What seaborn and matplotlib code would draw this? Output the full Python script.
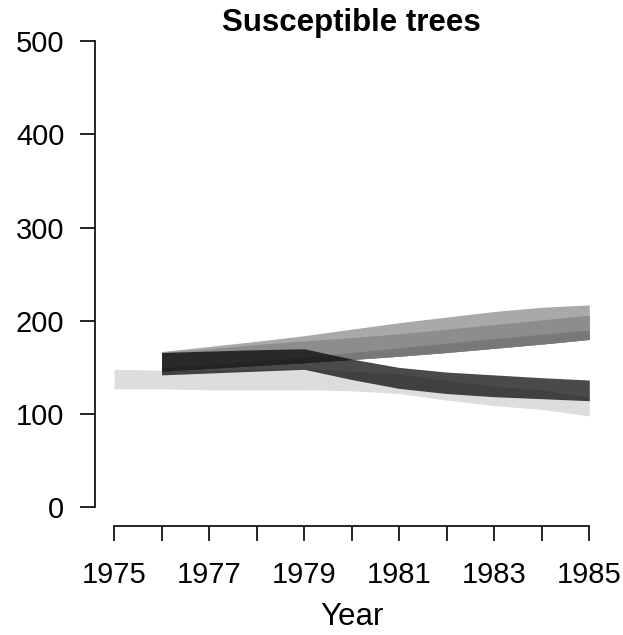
import numpy as np
import matplotlib
matplotlib.use("Agg")
import matplotlib.pyplot as plt
import seaborn as sns

# Observed susceptible-tree range (1975-1985)
obs_years = [1975, 1976, 1977, 1978, 1979, 1980, 1981, 1982, 1983, 1984, 1985]
obs_low = [127, 127, 126, 126, 126, 125, 122, 115, 109, 105, 98]
obs_high = [148, 147, 147, 148, 149, 146, 143, 136, 130, 126, 118]

# Model projections (1976-1985)
model_years = [1976, 1977, 1978, 1979, 1980, 1981, 1982, 1983, 1984, 1985]
upper_low = [146, 149, 152, 155, 158.5, 162, 166, 170.5, 175, 180]
upper_q1 = [150, 153, 157, 161, 166, 171, 176, 181, 185.5, 190]
upper_q2 = [166, 170, 174.5, 178.5, 182, 186, 191, 196, 201, 206]
upper_high = [167, 172.5, 178, 184, 191, 198, 204, 210, 214.5, 217]
lower_low = [142, 144, 146, 148, 137, 127.5, 122, 118.6, 116.5, 114.3]
lower_high = [166, 167.5, 169, 170, 159, 150, 145, 142, 139, 136.5]

x_ticks = list(range(1975, 1986))
x_labels = [str(y) if (y - 1975) % 2 == 0 else "" for y in x_ticks]
y_ticks = [0, 100, 200, 300, 400, 500]

sns.set_style("ticks")
plt.rcParams["font.family"] = ["Liberation Sans", "DejaVu Sans"]
plt.rcParams["text.color"] = "black"
plt.rcParams["axes.labelcolor"] = "black"
plt.rcParams["xtick.color"] = "black"
plt.rcParams["ytick.color"] = "black"

fig = plt.figure(figsize=(6.23, 6.35), dpi=100)
ax = fig.add_axes([95 / 623, 1 - 526 / 635, (608.3 - 95) / 623, (526 - 22.3) / 635])

ax.fill_between(obs_years, obs_low, obs_high, color="#dddddd", linewidth=0)
ax.fill_between(model_years, upper_low, upper_high, color="#a9a9a9", linewidth=0)
ax.fill_between(model_years, upper_low, upper_q2, color="#8d8d8d", linewidth=0)
ax.fill_between(model_years, upper_low, upper_q1, color="#787878", linewidth=0)
ax.fill_between(model_years, lower_low, lower_high, color="black", alpha=0.71, linewidth=0)

ax.set_xlim(1974.6, 1985.4)
ax.set_ylim(-20, 520)
ax.set_xticks(x_ticks)
ax.set_xticklabels(x_labels)
ax.set_yticks(y_ticks)
ax.set_yticklabels([str(v) for v in y_ticks])

for side in ("top", "right"):
    ax.spines[side].set_visible(False)
ax.spines["left"].set_bounds(0, 500)
ax.spines["bottom"].set_bounds(1975, 1985)
for side in ("left", "bottom"):
    ax.spines[side].set_linewidth(1.2)
    ax.spines[side].set_color("black")

ax.tick_params(axis="both", direction="out", length=11, width=1.2, colors="black",
               labelcolor="black", labelsize=21)
ax.tick_params(axis="x", pad=14)
ax.tick_params(axis="y", pad=11)

fig.text((95 + 608.3) / 2 / 623, 1 - 31 / 635, "Susceptible trees",
         ha="center", va="baseline", fontsize=22.5, fontweight="bold", color="black")
fig.text((95 + 608.3) / 2 / 623, 1 - 625 / 635, "Year",
         ha="center", va="baseline", fontsize=22.5, color="black")

fig.savefig("out.png", dpi=100)
